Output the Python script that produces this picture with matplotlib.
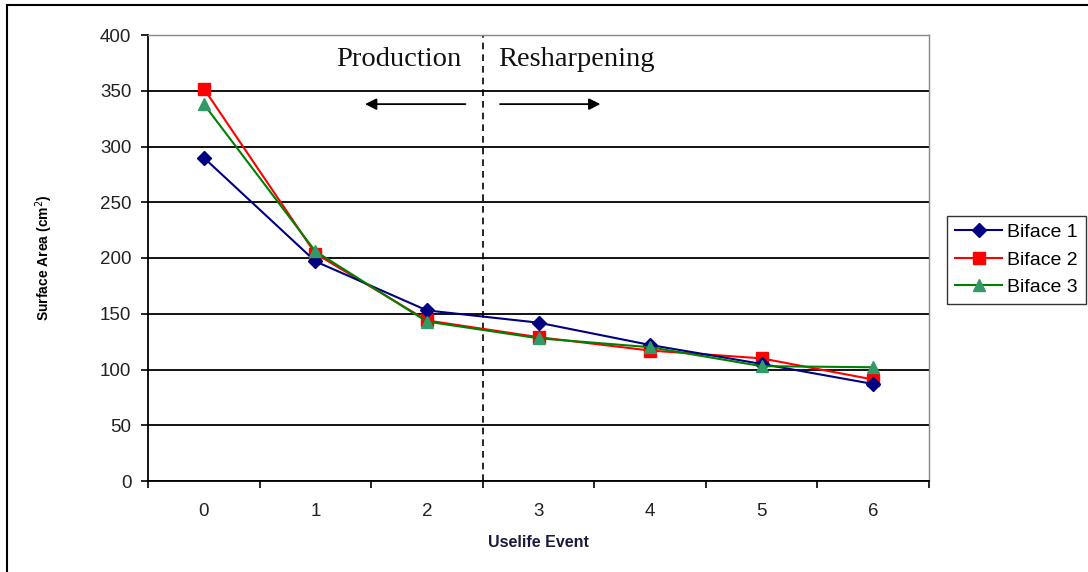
import numpy as np
import matplotlib.pyplot as plt
from matplotlib.lines import Line2D

events = [0, 1, 2, 3, 4, 5, 6]
biface1 = [290, 197, 153, 142, 122, 105, 87]
biface2 = [352, 204, 144, 129, 117, 110, 91]
biface3 = [338, 206, 143, 128, 120, 103, 102]
series_labels = ["Biface 1", "Biface 2", "Biface 3"]
y_ticks = [0, 50, 100, 150, 200, 250, 300, 350, 400]

plt.rcParams["font.family"] = ["Liberation Sans", "DejaVu Sans"]

fig = plt.figure(figsize=(10.88, 5.72), dpi=100)
ax = fig.add_axes([148 / 1088, 1 - 481 / 572, 781 / 1088, 446 / 572])

# frame edges along the left and top of the chart
fig.lines.append(Line2D([7 / 1088, 7 / 1088], [0, 1 - 5 / 572],
                        transform=fig.transFigure, color="black", lw=1.5))
fig.lines.append(Line2D([7 / 1088, 1], [1 - 5 / 572, 1 - 5 / 572],
                        transform=fig.transFigure, color="black", lw=1.5))

ax.plot(events, biface1, color="#000080", marker="D", markersize=7,
        linewidth=1.5, label=series_labels[0], zorder=5)
ax.plot(events, biface2, color="#FF0000", marker="s", markersize=9,
        linewidth=1.5, label=series_labels[1], zorder=4)
ax.plot(events, biface3, color="#008000", marker="^", markersize=9,
        markerfacecolor="#339966", markeredgecolor="#339966",
        linewidth=1.5, label=series_labels[2], zorder=6)

ax.set_xlim(-0.5, 6.5)
ax.set_ylim(0, 400)
ax.set_yticks(y_ticks)
ax.set_xticks(events)
ax.set_xticks(np.arange(-0.5, 7, 1), minor=True)
ax.tick_params(axis="x", which="major", length=0, pad=15.5,
               labelsize=13.5, labelcolor="#222222")
ax.tick_params(axis="x", which="minor", length=5, width=1.2,
               direction="out")
ax.tick_params(axis="y", length=5, width=1.2, direction="out",
               labelsize=13.5, labelcolor="#222222", pad=7)
ax.yaxis.grid(True, color="black", linewidth=1.3)
ax.set_axisbelow(True)

for side in ["left", "bottom"]:
    ax.spines[side].set_linewidth(1.3)
for side in ["top", "right"]:
    ax.spines[side].set_color("#888888")
    ax.spines[side].set_linewidth(1.0)

# boundary between production and resharpening
ax.axvline(2.5, color="black", linestyle=(0, (4, 3)), linewidth=1.2)

ax.text(2.31, 378, "Production", family="Liberation Serif", fontsize=20.5,
        ha="right", va="center", color="#111111")
ax.text(2.64, 378, "Resharpening", family="Liberation Serif", fontsize=20.5,
        ha="left", va="center", color="#111111")
ax.annotate("", xy=(1.42, 338), xytext=(2.37, 338),
            arrowprops=dict(arrowstyle="-|>", color="black", lw=1.3,
                            mutation_scale=17))
ax.annotate("", xy=(3.58, 338), xytext=(2.63, 338),
            arrowprops=dict(arrowstyle="-|>", color="black", lw=1.3,
                            mutation_scale=17))

ax.set_xlabel("Uselife Event", fontsize=11.5, fontweight="bold",
              color="#1a1a40", labelpad=11)
ax.set_ylabel("Surface Area (cm$^2$)", fontsize=10, fontweight="bold",
              labelpad=32)

leg = ax.legend(loc="center left", bbox_to_anchor=(1.023, 0.496),
                borderaxespad=0, fontsize=14, frameon=True, fancybox=False,
                edgecolor="black", handlelength=2.45, borderpad=0.4,
                labelspacing=0.5, handletextpad=0.25)
leg.get_frame().set_linewidth(1.0)

fig.savefig("out.png", dpi=100)
